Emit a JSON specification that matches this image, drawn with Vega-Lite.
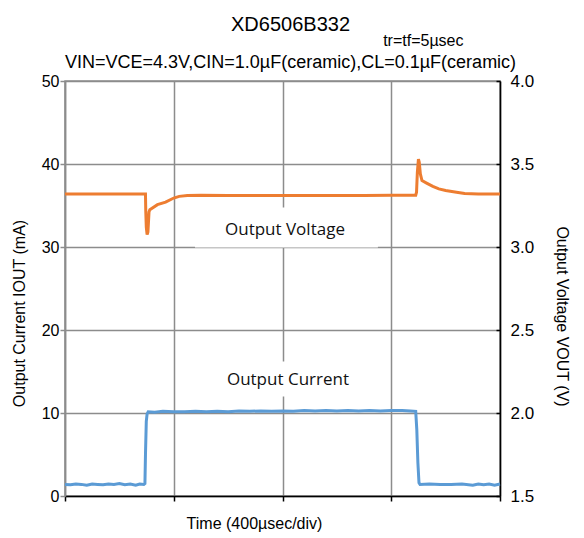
{
  "$schema": "https://vega.github.io/schema/vega-lite/v6.json",
  "width": 435,
  "height": 415,
  "autosize": {"type": "none"},
  "padding": {"left": 65, "top": 81, "right": 84, "bottom": 42},
  "background": "white",
  "config": {
    "view": {"stroke": "#8c8c8c", "strokeWidth": 1.5},
    "font": "Liberation Sans",
    "axis": {"labelColor": "black", "titleColor": "black", "titleFontWeight": "normal", "labelFont": "Liberation Sans", "titleFont": "Liberation Sans"}
  },
  "title": {
    "text": "XD6506B332",
    "subtitle": "VIN=VCE=4.3V,CIN=1.0µF(ceramic),CL=0.1µF(ceramic)",
    "frame": "group",
    "anchor": "middle",
    "dx": 8,
    "dy": 43,
    "offset": 4,
    "font": "Liberation Sans",
    "fontSize": 20,
    "fontWeight": "normal",
    "color": "black",
    "subtitleFont": "Liberation Sans",
    "subtitleFontSize": 18,
    "subtitleColor": "black",
    "subtitlePadding": 19
  },
  "datasets": {
    "cur": [
      {"t": 0, "ma": 1.4}, {"t": 20, "ma": 1.35}, {"t": 40, "ma": 1.45}, {"t": 60, "ma": 1.4}, {"t": 80, "ma": 1.3},
      {"t": 100, "ma": 1.45}, {"t": 120, "ma": 1.4}, {"t": 140, "ma": 1.35}, {"t": 160, "ma": 1.45}, {"t": 180, "ma": 1.4},
      {"t": 200, "ma": 1.5}, {"t": 220, "ma": 1.35}, {"t": 240, "ma": 1.45}, {"t": 260, "ma": 1.3}, {"t": 275, "ma": 1.45},
      {"t": 290, "ma": 1.4}, {"t": 294, "ma": 1.5}, {"t": 296, "ma": 5}, {"t": 299, "ma": 9}, {"t": 302, "ma": 9.9},
      {"t": 306, "ma": 10.15}, {"t": 330, "ma": 10.1}, {"t": 360, "ma": 10.2}, {"t": 400, "ma": 10.15}, {"t": 440, "ma": 10.15},
      {"t": 480, "ma": 10.2}, {"t": 520, "ma": 10.15}, {"t": 560, "ma": 10.2}, {"t": 600, "ma": 10.15}, {"t": 640, "ma": 10.25},
      {"t": 680, "ma": 10.2}, {"t": 720, "ma": 10.25}, {"t": 760, "ma": 10.2}, {"t": 800, "ma": 10.25}, {"t": 840, "ma": 10.2},
      {"t": 880, "ma": 10.3}, {"t": 920, "ma": 10.25}, {"t": 960, "ma": 10.3}, {"t": 1000, "ma": 10.25}, {"t": 1040, "ma": 10.3},
      {"t": 1080, "ma": 10.25}, {"t": 1120, "ma": 10.3}, {"t": 1160, "ma": 10.25}, {"t": 1200, "ma": 10.3}, {"t": 1240, "ma": 10.3},
      {"t": 1270, "ma": 10.25}, {"t": 1290, "ma": 10.2}, {"t": 1294, "ma": 8}, {"t": 1298, "ma": 4}, {"t": 1302, "ma": 1.6},
      {"t": 1306, "ma": 1.4}, {"t": 1340, "ma": 1.45}, {"t": 1380, "ma": 1.4}, {"t": 1420, "ma": 1.4}, {"t": 1460, "ma": 1.45},
      {"t": 1500, "ma": 1.3}, {"t": 1520, "ma": 1.45}, {"t": 1540, "ma": 1.35}, {"t": 1560, "ma": 1.45}, {"t": 1580, "ma": 1.3},
      {"t": 1600, "ma": 1.45}
    ],
    "volt": [
      {"t": 0, "v": 3.32}, {"t": 100, "v": 3.32}, {"t": 200, "v": 3.32}, {"t": 290, "v": 3.32}, {"t": 296, "v": 3.32},
      {"t": 297, "v": 3.22}, {"t": 299, "v": 3.12}, {"t": 302, "v": 3.075}, {"t": 305, "v": 3.09}, {"t": 307, "v": 3.15},
      {"t": 309, "v": 3.21}, {"t": 312, "v": 3.225}, {"t": 340, "v": 3.255}, {"t": 370, "v": 3.27}, {"t": 400, "v": 3.295},
      {"t": 420, "v": 3.305}, {"t": 450, "v": 3.31}, {"t": 500, "v": 3.312}, {"t": 600, "v": 3.31}, {"t": 700, "v": 3.31},
      {"t": 800, "v": 3.31}, {"t": 900, "v": 3.31}, {"t": 1000, "v": 3.31}, {"t": 1100, "v": 3.31}, {"t": 1200, "v": 3.312},
      {"t": 1290, "v": 3.312}, {"t": 1293, "v": 3.33}, {"t": 1296, "v": 3.45}, {"t": 1300, "v": 3.53}, {"t": 1303, "v": 3.51},
      {"t": 1307, "v": 3.44}, {"t": 1313, "v": 3.4}, {"t": 1330, "v": 3.385}, {"t": 1353, "v": 3.365}, {"t": 1375, "v": 3.35},
      {"t": 1400, "v": 3.34}, {"t": 1440, "v": 3.33}, {"t": 1470, "v": 3.322}, {"t": 1520, "v": 3.32}, {"t": 1600, "v": 3.32}
    ],
    "boxes": [
      {"t": 478, "t2": 1151, "ma": 29.94, "ma2": 34.76},
      {"t": 551, "t2": 1085, "ma": 12.0, "ma2": 16.2}
    ],
    "ann": [
      {"t": 809, "ma": 32.1, "label": "Output Voltage"},
      {"t": 820, "ma": 14.0, "label": "Output Current"}
    ],
    "hdr": [
      {"t": 1318, "ma": 54.76, "label": "tr=tf=5µsec"}
    ]
  },
  "encoding": {
    "x": {
      "field": "t",
      "type": "quantitative",
      "scale": {"domain": [0, 1600], "nice": false},
      "axis": {
        "values": [0, 400, 800, 1200, 1600],
        "labels": false,
        "title": "Time  (400µsec/div)",
        "titleFontSize": 16,
        "titlePadding": 14,
        "titleX": 189,
        "domainColor": "black",
        "domainWidth": 1.5,
        "tickColor": "black",
        "tickWidth": 1.5,
        "tickSize": 5,
        "grid": true,
        "gridColor": "#8c8c8c",
        "gridWidth": 1.5
      }
    }
  },
  "resolve": {"scale": {"y": "independent"}},
  "layer": [
    {
      "encoding": {
        "y": {
          "field": "ma",
          "type": "quantitative",
          "scale": {"domain": [0, 50], "nice": false},
          "axis": {
            "orient": "left",
            "values": [0, 10, 20, 30, 40, 50],
            "title": "Output Current  IOUT (mA)",
            "titleFontSize": 16,
            "titlePadding": 14,
            "titleY": 232,
            "labelFontSize": 16,
            "labelPadding": 1,
            "domainColor": "#8c8c8c",
            "domainWidth": 1.5,
            "tickColor": "#8c8c8c",
            "tickWidth": 1.5,
            "tickSize": 5,
            "grid": true,
            "gridColor": "#8c8c8c",
            "gridWidth": 1.5
          }
        }
      },
      "layer": [
        {
          "data": {"name": "boxes"},
          "mark": {"type": "rect", "color": "white", "strokeWidth": 0},
          "encoding": {"x2": {"field": "t2"}, "y2": {"field": "ma2"}}
        },
        {
          "data": {"name": "ann"},
          "mark": {"type": "text", "font": "Open Sans", "fontSize": 17, "color": "#111111", "align": "center", "baseline": "middle"},
          "encoding": {"text": {"field": "label"}}
        },
        {
          "data": {"name": "hdr"},
          "mark": {"type": "text", "font": "Liberation Sans", "fontSize": 16, "color": "black", "align": "center", "baseline": "middle", "clip": false},
          "encoding": {"text": {"field": "label"}}
        },
        {
          "data": {"name": "cur"},
          "mark": {"type": "line", "color": "#5B9BD5", "strokeWidth": 3},
          "encoding": {}
        }
      ]
    },
    {
      "data": {"name": "volt"},
      "mark": {"type": "line", "color": "#ED7D31", "strokeWidth": 3},
      "encoding": {
        "y": {
          "field": "v",
          "type": "quantitative",
          "scale": {"domain": [1.5, 4.0], "nice": false},
          "axis": {
            "orient": "right",
            "values": [1.5, 2.0, 2.5, 3.0, 3.5, 4.0],
            "format": ".1f",
            "title": "Output Voltage  VOUT (V)",
            "titleFontSize": 16,
            "titlePadding": 20,
            "titleY": 235,
            "labelFontSize": 17,
            "labelPadding": 14,
            "domainColor": "black",
            "domainWidth": 1.5,
            "tickColor": "black",
            "tickWidth": 1.5,
            "tickSize": -4,
            "grid": false
          }
        }
      }
    }
  ]
}
